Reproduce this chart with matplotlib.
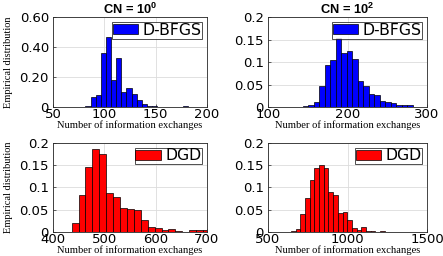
import matplotlib
matplotlib.use("Agg")
import matplotlib.pyplot as plt
import numpy as np

# histogram heights (empirical distribution)
bfgs_cn1 = [0.005, 0.07, 0.08, 0.36, 0.47, 0.18, 0.33, 0.10, 0.125, 0.09,
            0.045, 0.02, 0.006, 0.004, 0.002, 0.003, 0, 0, 0, 0.009]
bfgs_cn1_start, bfgs_cn1_width = 81.5, 5.0

bfgs_cn2 = [0.002, 0.005, 0.012, 0.047, 0.094, 0.106, 0.155, 0.121, 0.124, 0.108,
            0.059, 0.046, 0.030, 0.027, 0.014, 0.011, 0.009, 0.004, 0.005, 0.005]
bfgs_cn2_start, bfgs_cn2_width = 144.0, 6.9

dgd_cn1 = [0.019, 0.082, 0.145, 0.186, 0.175, 0.088, 0.079, 0.054, 0.052, 0.049,
           0.026, 0.011, 0.009, 0.0045, 0.007, 0.002, 0, 0.0045, 0.0045, 0.0045]
dgd_cn1_start, dgd_cn1_width = 436.0, 13.5

dgd_cn2 = [0.002, 0.006, 0.041, 0.077, 0.116, 0.144, 0.151, 0.144, 0.089, 0.083,
           0.042, 0.044, 0.026, 0.008, 0.005, 0.012, 0.002, 0.003, 0, 0.001]
dgd_cn2_start, dgd_cn2_width = 645.0, 29.4

titles = ['CN = $\\mathbf{10^0}$', 'CN = $\\mathbf{10^2}$']
xlims = [(50, 200), (100, 300), (400, 700), (500, 1500)]
xticks = [[50, 100, 150, 200], [100, 200, 300], [400, 500, 600, 700], [500, 1000, 1500]]
yticks_top_left = [0, 0.2, 0.4, 0.6]
yticklabels_top_left = ['0', '0.20', '0.40', '0.60']
yticks_other = [0, 0.05, 0.1, 0.15, 0.2]
yticklabels_other = ['0', '0.05', '0.1', '0.15', '0.2']

plt.rcParams['font.family'] = ['DejaVu Sans']
plt.rcParams['mathtext.fontset'] = 'custom'
plt.rcParams['mathtext.bf'] = 'Liberation Sans:bold'

fig = plt.figure(figsize=(4.43, 2.56), dpi=100)
axc = '#262626'

boxes = [[0.120, 0.582, 0.347, 0.350], [0.605, 0.582, 0.359, 0.350],
         [0.120, 0.094, 0.347, 0.348], [0.605, 0.094, 0.359, 0.348]]
data = [(bfgs_cn1, bfgs_cn1_start, bfgs_cn1_width, 'blue', 'D-BFGS'),
        (bfgs_cn2, bfgs_cn2_start, bfgs_cn2_width, 'blue', 'D-BFGS'),
        (dgd_cn1, dgd_cn1_start, dgd_cn1_width, 'red', 'DGD'),
        (dgd_cn2, dgd_cn2_start, dgd_cn2_width, 'red', 'DGD')]

for i in range(4):
    ax = fig.add_axes(boxes[i])
    h, start, w, col, lab = data[i]
    left = start + w * np.arange(len(h))
    ax.bar(left, h, width=w, align='edge', color=col, edgecolor='black',
           linewidth=0.5, label=lab, zorder=2)
    ax.set_xlim(xlims[i])
    ax.set_xticks(xticks[i])
    if i == 0:
        ax.set_ylim(0, 0.6)
        ax.set_yticks(yticks_top_left)
        ax.set_yticklabels(yticklabels_top_left)
    else:
        ax.set_ylim(0, 0.2)
        ax.set_yticks(yticks_other)
        ax.set_yticklabels(yticklabels_other)
    ax.grid(True, color='#dcdcdc', linewidth=0.6, zorder=0)
    ax.set_axisbelow(True)
    for s in ax.spines.values():
        s.set_color(axc)
        s.set_linewidth(0.6)
    ax.tick_params(direction='in', length=2.5, width=0.5, labelsize=9.5,
                   colors=axc, labelcolor='black')
    ax.tick_params(axis='x', pad=0.5)
    ax.tick_params(axis='y', pad=3)
    ax.set_xlabel('Number of information exchanges', family='Liberation Serif',
                  fontsize=7.6, labelpad=-0.5)
    if i % 2 == 0:
        ax.set_ylabel('Empirical distribution', family='Liberation Serif',
                      fontsize=7.5, labelpad=5)
    if i < 2:
        ax.set_title(titles[i], fontsize=9.3, fontweight='bold',
                     family='Liberation Sans', pad=1)
    leg = ax.legend(loc='upper right', fontsize=11.3, frameon=True, fancybox=False,
                    handlelength=1.6, handleheight=0.62, handletextpad=0.3,
                    borderpad=0.05, borderaxespad=0.3)
    leg.get_frame().set_edgecolor('black')
    leg.get_frame().set_linewidth(0.6)
    leg.set_zorder(5)

fig.savefig('out.png', dpi=100)
